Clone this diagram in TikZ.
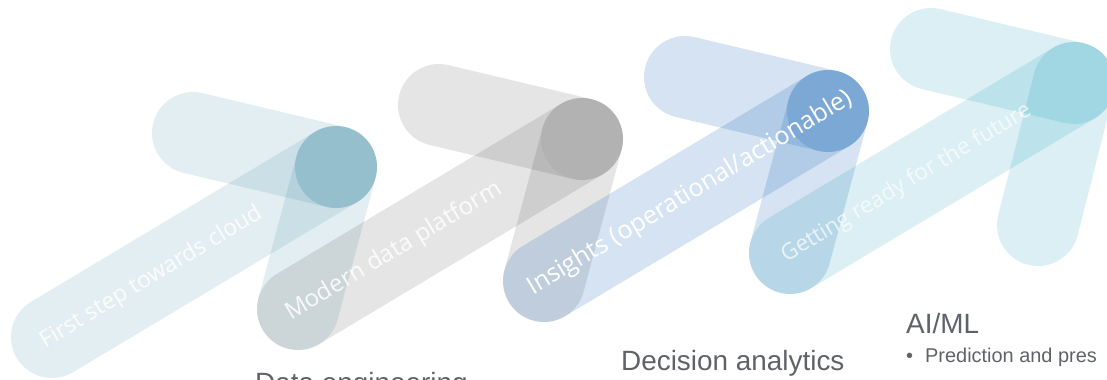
\documentclass[tikz,border=0pt]{standalone}
\usepackage{fontspec}
\setmainfont{Liberation Sans}
\newfontfamily\barfont{Open Sans}
\usetikzlibrary{calc}
\definecolor{cA}{RGB}{0,100,135}
\definecolor{cB}{RGB}{0,0,0}
\definecolor{cC}{RGB}{0,85,175}
\definecolor{cD}{RGB}{0,145,180}
\definecolor{txtgrey}{RGB}{95,99,104}
\tikzset{
  bar/.style={line width=82bp, line cap=round},
  barlabel/.style={text=white, rotate=31, inner sep=0pt},
  title/.style={text=txtgrey, inner sep=0pt, anchor=base west, font=\fontsize{28}{32}\selectfont},
}
\begin{document}
\begin{tikzpicture}[x=1bp,y=-1bp]
\useasboundingbox (0,0) rectangle (1107,379);
\clip (0,0) rectangle (1107,379);
% key points of the four arrows
\coordinate (T1) at (336,167);
\coordinate (T2) at (582,139);
\coordinate (T3) at (828,111);
\coordinate (T4) at (1074,83);
\coordinate (A1) at (193,133);
\coordinate (A2) at (439,105);
\coordinate (A3) at (685,77);
\coordinate (A4) at (931,49);
\coordinate (B1) at (52,337);
\coordinate (B2) at (298,309);
\coordinate (B3) at (544,281);
\coordinate (B4) at (790,253);
\coordinate (V4) at (1038,225);
% arrow 1
\draw[bar, draw=cA, draw opacity=0.11] (A1) -- (T1);
\draw[bar, draw=cA, draw opacity=0.11] (B1) -- (T1);
\draw[bar, draw=cA, draw opacity=0.11] (T1) -- (B2);
\fill[cA, fill opacity=0.17] (T1) circle[radius=41bp];
\node[barlabel, opacity=0.85, font=\barfont\fontsize{23}{26}\selectfont] (l1) at ($(B1)!0.35!(T1)$) {First step towards cloud};
% arrow 2
\draw[bar, draw=cB, draw opacity=0.1] (A2) -- (T2);
\draw[bar, draw=cB, draw opacity=0.1] (B2) -- (T2);
\draw[bar, draw=cB, draw opacity=0.1] (T2) -- (B3);
\fill[cB, fill opacity=0.04] (T2) circle[radius=41bp];
\node[barlabel, opacity=0.85, font=\barfont\fontsize{24}{27}\selectfont] (l2) at ($(B2)!0.338!(T2)$) {Modern data platform};
% arrow 3
\draw[bar, draw=cC, draw opacity=0.165] (A3) -- (T3);
\draw[bar, draw=cC, draw opacity=0.165] (B3) -- (T3);
\draw[bar, draw=cC, draw opacity=0.165] (T3) -- (B4);
\fill[cC, fill opacity=0.17] (T3) circle[radius=41bp];
\node[barlabel, font=\barfont\fontsize{25}{28}\selectfont] (l3) at ($(B3)!0.515!(T3)$) {Insights (operational/actionable)};
% arrow 4
\draw[bar, draw=cD, draw opacity=0.14] (A4) -- (T4);
\draw[bar, draw=cD, draw opacity=0.14] (B4) -- (T4);
\draw[bar, draw=cD, draw opacity=0.14] (T4) -- (V4);
\node[barlabel, opacity=0.7, font=\barfont\fontsize{22.5}{26}\selectfont] (l4) at ($(B4)!0.41!(T4)$) {Getting ready for the future};
% titles
\node[title] (de) at (255,392) {Data engineering};
\node[title] (da) at (621,370) {Decision analytics};
\node[title] (ai) at (906,333) {AI/ML};
\node[title, font=\fontsize{20}{24}\selectfont] (p1) at (906,362) {•\hspace{12bp}Prediction and pres};
\end{tikzpicture}
\end{document}
